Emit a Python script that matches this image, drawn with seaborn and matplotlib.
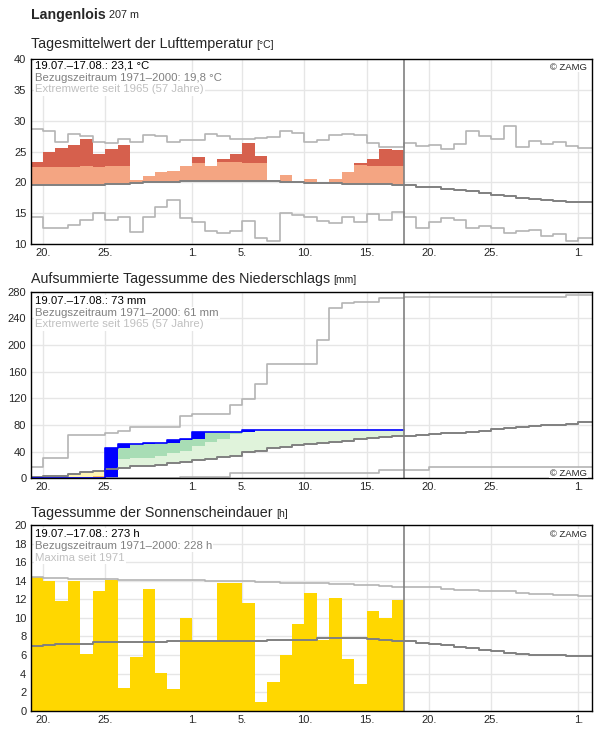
import numpy as np
import pandas as pd
import matplotlib
matplotlib.use('Agg')
import matplotlib.pyplot as plt
import seaborn as sns

sns.set_style('white')
plt.rcParams['font.family'] = ['Liberation Sans', 'DejaVu Sans']

W, H = 596, 729

# ---------------- data ----------------
# day index 0 = 19.07., each day occupies [i, i+1)
tick_days = [1, 6, 13, 17, 22, 27, 32, 37, 44]
tick_labels = ['20.', '25.', '1.', '5.', '10.', '15.', '20.', '25.', '1.']

# Temperature (°C)
temp_obs = [23.3, 24.9, 25.55, 26.0, 27.0, 24.6, 25.4, 26.0, 20.4, 21.0,
            21.7, 21.9, 22.6, 24.1, 22.6, 23.8, 24.6, 26.3, 24.3, 20.2,
            21.2, 20.0, 20.5, 19.85, 20.5, 21.6, 23.1, 23.8, 25.4, 25.2]
temp_upper = [22.5, 22.5, 22.5, 22.5, 22.7, 22.5, 22.6, 22.6, 22.8, 22.9,
              23.0, 23.0, 23.1, 23.1, 23.2, 23.3, 23.3, 23.2, 23.2, 23.1,
              23.0, 23.0, 23.0, 22.9, 22.9, 22.8, 22.8, 22.6, 22.6, 22.6]
temp_mean = [19.6, 19.6, 19.6, 19.6, 19.6, 19.6, 19.7, 19.7, 19.85, 20.0,
             20.0, 20.0, 20.2, 20.2, 20.2, 20.2, 20.2, 20.2, 20.2, 20.2,
             20.0, 20.0, 19.85, 19.85, 19.85, 19.7, 19.7, 19.7, 19.7, 19.6,
             19.56, 19.19, 19.19, 18.97, 18.75, 18.54, 18.22, 17.94, 17.73, 17.51,
             17.35, 17.19, 17.02, 16.81, 16.81, 16.81]
temp_max = [28.7, 28.4, 26.5, 27.9, 27.5, 26.6, 26.3, 27.1, 26.5, 27.7,
            27.5, 26.5, 26.85, 26.85, 27.9, 27.5, 27.0, 27.1, 27.2, 27.4,
            28.25, 28.0, 26.6, 26.8, 27.7, 27.9, 27.7, 26.3, 25.8, 25.8,
            26.3, 25.87, 25.98, 25.34, 26.2, 28.35, 27.5, 26.96, 29.2, 25.66,
            26.75, 26.2, 26.6, 25.87, 25.55, 25.55]
temp_min = [14.34, 12.56, 12.56, 13.04, 13.9, 14.98, 13.9, 14.34, 12.0, 14.34,
            15.95, 17.14, 14.23, 13.5, 12.18, 11.75, 12.07, 13.7, 11.0, 10.5,
            15.0, 14.66, 14.34, 13.7, 13.37, 14.34, 13.5, 14.8, 13.9, 15.15,
            14.34, 12.6, 13.53, 14.22, 13.9, 12.55, 12.88, 12.6, 11.75, 12.07,
            12.24, 11.36, 11.57, 10.45, 11.0, 11.0]

# Precipitation (mm)
precip_daily = [0, 0, 0, 0, 0, 0, 45, 6.5, 0.5, 0.5,
                1, 4, 1, 11, 0.3, 0, 0.2, 3, 0, 0,
                0, 0, 0, 0, 0, 0, 0, 0, 0, 0]
precip_upper = [8, 10, 12, 15, 18, 22, 26, 28.5, 30, 31,
                34, 37.5, 41, 48.5, 54, 59, 66.5, 75, 78, 80,
                82, 84, 86, 88, 90, 92, 94, 96, 98, 100]
precip_lower = [1.5, 1.5, 1.5, 2, 2, 4, 5, 6, 7, 8,
                9, 10, 11, 12, 13, 14, 15, 16, 17, 18,
                19, 20, 21, 22, 23, 24, 25, 26, 27, 28]
precip_mean = [2.4, 3.4, 4.0, 6.9, 9.0, 11.4, 13.5, 15.0, 18.5, 18.5,
               20.4, 22.5, 24.4, 27.0, 29.0, 31.5, 33.5, 39.0, 41.0, 45.0,
               47.4, 50.4, 51.5, 53.4, 55.0, 56.4, 58.5, 60.0, 61.5, 63.0,
               63.5, 65.4, 67.0, 68.0, 68.5, 70.0, 71.5, 73.5, 75.0, 76.5,
               78.5, 79.5, 80.4, 81.5, 84.0, 84.0]
precip_max = [16.5, 30, 30, 64.5, 64.5, 64.5, 67.5, 71.5, 77.5, 77.5,
              77.5, 77.5, 93.5, 96.5, 96.5, 96.5, 110, 118.5, 141, 171,
              171, 171, 171, 207, 256, 262.5, 264, 264, 271, 271,
              272.5, 272.5, 272.5, 272.5, 272.5, 272.5, 272.5, 272.5, 272.5, 272.5,
              272.5, 272.5, 272.5, 275, 275, 275]
precip_min = [0, 0, 0, 0, 0, 0, 0, 0, 0, 0,
              0, 0, 1.5, 1.5, 1.5, 1.5, 7.5, 7.5, 7.5, 7.5,
              7.5, 7.5, 7.5, 7.5, 7.5, 7.5, 7.5, 7.5, 12.5, 12.5,
              12.5, 12.5, 16.5, 16.5, 16.5, 16.5, 16.5, 16.5, 16.5, 16.5,
              16.5, 16.5, 16.5, 16.5, 16.5, 16.5]

# Sunshine (h)
sun_obs = [14.36, 13.97, 11.85, 13.97, 6.1, 12.9, 14.1, 2.44, 5.78, 13.07,
           4.06, 2.33, 9.98, 7.54, 7.54, 13.75, 13.75, 11.6, 0.93, 3.09,
           6.0, 9.34, 12.68, 7.6, 12.14, 5.57, 2.87, 10.74, 9.95, 11.92]
sun_mean = [6.97, 7.04, 7.15, 7.15, 7.22, 7.36, 7.36, 7.4, 7.4, 7.43,
            7.45, 7.5, 7.54, 7.54, 7.54, 7.54, 7.54, 7.54, 7.54, 7.65,
            7.65, 7.65, 7.65, 7.79, 7.79, 7.79, 7.79, 7.68, 7.6, 7.5,
            7.54, 7.33, 7.19, 7.04, 6.9, 6.75, 6.54, 6.4, 6.25, 6.1,
            6.0, 6.0, 5.95, 5.89, 5.89, 5.89]
sun_max = [14.36, 14.3, 14.25, 14.22, 14.2, 14.15, 14.15, 14.1, 14.1, 14.08,
           14.08, 14.08, 14.05, 14.05, 14.0, 14.0, 14.0, 13.95, 13.9, 13.86,
           13.8, 13.7, 13.7, 13.7, 13.6, 13.6, 13.55, 13.5, 13.4, 13.36,
           13.36, 13.36, 13.28, 13.14, 13.0, 13.0, 12.93, 12.86, 12.86, 12.64,
           12.53, 12.53, 12.5, 12.43, 12.36, 12.36]

# ---------------- style ----------------
C_TDARK, C_TLIGHT = '#D6604D', '#F4A582'
C_BLUE, C_GDARK, C_GLIGHT = '#0000FF', '#A8DDB5', '#E0F3DB'
C_YEL, C_ORA = '#FFF5B4', '#FDC25A'
C_SUN = '#FFD700'
C_EXT, C_NORM = '#B4B4B4', '#808080'

fig = plt.figure(figsize=(W / 100, H / 100), dpi=100)


def add_ax(top, bottom):
    return fig.add_axes([30.5 / W, 1 - bottom / H, (592 - 30.5) / W, (bottom - top) / H])


ax1 = add_ax(59, 244)
ax2 = add_ax(291.7, 478.3)
ax3 = add_ax(525, 710.7)


def step(ax, vals, color, lw, z=3):
    v = list(vals) + [vals[-1]]
    sns.lineplot(x=np.arange(len(v)), y=v, drawstyle='steps-post', color=color,
                 lw=lw, ax=ax, estimator=None, zorder=z)


def bars(ax, bottom, height, color):
    ax.bar(np.arange(len(height)), height, bottom=bottom, width=1.0, align='edge',
           color=color, linewidth=0, zorder=2)


days = np.arange(30)

# ---- Temperature ----
obs = np.array(temp_obs)
thr = np.array(temp_upper)
base = np.array(temp_mean[:30])
light_top = np.minimum(obs, thr)
bars(ax1, base, np.clip(light_top - base, 0, None), C_TLIGHT)
dk_base = np.maximum(thr, base)
bars(ax1, dk_base, np.clip(obs - dk_base, 0, None), C_TDARK)
step(ax1, temp_max, C_EXT, 1.2)
step(ax1, temp_min, C_EXT, 1.2)
step(ax1, temp_mean, C_NORM, 1.4)

# ---- Precipitation ----
daily = np.array(precip_daily, dtype=float)
cum = np.cumsum(daily)
prev = cum - daily
nrm = np.array(precip_mean[:30])
up = np.array(precip_upper)
lo = np.array(precip_lower)
bars(ax2, nrm, np.clip(np.minimum(cum, up) - nrm, 0, None), C_GLIGHT)
gd_base = np.maximum(up, nrm)
bars(ax2, gd_base, np.clip(cum - gd_base, 0, None), C_GDARK)
y_base = np.maximum(cum, lo)
bars(ax2, y_base, np.clip(nrm - y_base, 0, None), C_YEL)
bars(ax2, cum, np.clip(np.minimum(lo, nrm) - cum, 0, None), C_ORA)
bars(ax2, prev, cum - prev, C_BLUE)
step(ax2, precip_max, C_EXT, 1.2)
step(ax2, precip_min, C_EXT, 1.2)
step(ax2, precip_mean, C_NORM, 1.4)
step(ax2, list(cum), C_BLUE, 1.2, z=3.5)

# ---- Sunshine ----
sun_df = pd.DataFrame({'mid': days + 0.5, 'hours': sun_obs})
sns.barplot(data=sun_df, x='mid', y='hours', native_scale=True, width=1.0,
            color=C_SUN, saturation=1, linewidth=0, errorbar=None, ax=ax3, zorder=2)
step(ax3, sun_max, C_EXT, 1.2)
step(ax3, sun_mean, C_NORM, 1.4)

# ---- axes formatting ----
for ax, ylim, yticks in [(ax1, (10, 40), np.arange(10, 41, 5)),
                         (ax2, (0, 280), np.arange(0, 281, 40)),
                         (ax3, (0, 20), np.arange(0, 21, 2))]:
    ax.set_xlim(0, 45.1)
    ax.set_ylim(*ylim)
    ax.set_yticks(yticks)
    ax.set_yticklabels([str(t) for t in yticks])
    ax.set_xticks(tick_days)
    ax.set_xticklabels(tick_labels)
    ax.set_xlabel('')
    ax.set_ylabel('')
    ax.grid(True, color='#E6E6E6', lw=1.0)
    ax.set_axisbelow(True)
    ax.tick_params(axis='y', length=0, labelsize=8, pad=3)
    ax.tick_params(axis='x', length=0, labelsize=8, pad=3)
    ax.axvline(30, color=C_NORM, lw=1.2, zorder=4)
    for s in ax.spines.values():
        s.set_visible(True)
        s.set_color('black')
        s.set_linewidth(1.0)
        s.set_zorder(5)


def ftext(x, y, s, **kw):
    return fig.text(x / W, 1 - y / H, s, va='baseline', **kw)


def unit(after, y, s, size):
    ax1.annotate(s, xy=(1, 1 - y / H), xycoords=(after, 'figure fraction'),
                 xytext=(2.5, 0), textcoords='offset points', va='baseline',
                 ha='left', fontsize=size, annotation_clip=False)


t0 = ftext(31, 18.5, 'Langenlois', fontsize=10.2, fontweight='bold')
unit(t0, 18.5, '207 m', 7.8)

t1 = ftext(31, 48.3, 'Tagesmittelwert der Lufttemperatur', fontsize=10.3)
unit(t1, 48.3, '[°C]', 7.5)
t2 = ftext(31, 282.7, 'Aufsummierte Tagessumme des Niederschlags', fontsize=10.3)
unit(t2, 282.7, '[mm]', 7.5)
t3 = ftext(31, 517.3, 'Tagessumme der Sonnenscheindauer', fontsize=10.3)
unit(t3, 517.3, '[h]', 7.5)

box = dict(facecolor='white', edgecolor='none', boxstyle='square,pad=0.1')
legends = [
    (69, ['19.07.–17.08.: 23,1 °C', 'Bezugszeitraum 1971–2000: 19,8 °C',
          'Extremwerte seit 1965 (57 Jahre)']),
    (304, ['19.07.–17.08.: 73 mm', 'Bezugszeitraum 1971–2000: 61 mm',
           'Extremwerte seit 1965 (57 Jahre)']),
    (537.3, ['19.07.–17.08.: 273 h', 'Bezugszeitraum 1971–2000: 228 h',
             'Maxima seit 1971']),
]
for y0, lines in legends:
    for i, (s, c) in enumerate(zip(lines, ['black', '#808080', '#C0C0C0'])):
        ftext(35, y0 + i * 11.7, s, fontsize=8.2, color=c, bbox=box, zorder=6)

for yb in (69.5, 475.5, 537.3):
    ftext(587, yb, '© ZAMG', fontsize=6.8, ha='right', bbox=box, zorder=6)

fig.savefig('out.png', dpi=100)
